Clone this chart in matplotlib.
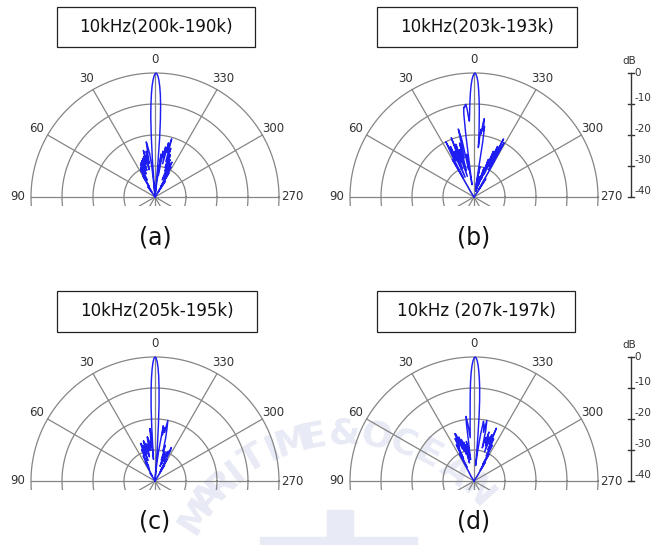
import numpy as np
import matplotlib.pyplot as plt
from matplotlib.patches import Rectangle

# beam patterns, angle in degrees (positive = toward 30/60/90 side), level in dB
ang_a = [-40, -35, -33, -32, -30, -29, -28, -27, -26, -25, -24, -23, -22, -21, -20, -19, -18, -17, -16, -15,
         -14, -13, -12, -11, -10, -9, -8, -7, -6, -5.5, -5, -4.5, -4, -3.5, -3, -2.5, -2, -1.5, -1, -0.5,
         0, 0.5, 1, 1.5, 2, 2.5, 3, 3.5, 4, 4.5, 5, 6, 7, 8, 9, 10, 11, 12, 13, 14, 15, 16, 17, 18, 19,
         20, 21, 22, 23, 24, 25, 26, 27, 28, 29, 30, 32, 35, 40]
db_a = [-40, -39, -34, -38, -31, -36, -29, -33, -27.5, -32, -28, -34, -27, -31, -25.5, -30, -23.5, -28, -20.5, -25,
        -22, -29, -23.5, -27, -25, -33, -26, -35, -40, -40, -30, -21, -15, -10.5, -7, -4.5, -2.6, -1.2, -0.4, 0,
        -0.3, -1.1, -2.4, -4.2, -6.8, -10, -14, -20, -28, -40, -37, -30, -26, -24, -22, -29, -25, -31, -27, -24.5, -29, -26.5, -31, -27, -30,
        -27.5, -32, -28, -31, -28.5, -34, -29.5, -33, -30, -36, -32, -38, -36, -40]

ang_b = [-40, -36, -33, -32, -30, -29, -28, -27, -26, -25, -24, -23, -22, -21, -20, -19, -18, -17, -15, -13,
         -12, -11, -10, -9.5, -9, -8.5, -8, -7.5, -7, -6.5, -6, -5.5, -5, -4.5, -4, -3.5, -3, -2.5, -2, -1.5,
         -1, -0.5, 0, 0.5, 1, 1.5, 2, 2.5, 3, 3.5, 4, 4.5, 5, 5.5, 6, 6.5, 7, 7.5, 8, 9, 10, 11, 12, 13,
         14, 15, 16, 17, 18, 19, 20, 21, 22, 23, 24, 25, 26, 27, 28, 29, 30, 31, 33, 36, 40]
db_b = [-40, -38, -33, -37, -28, -20, -30, -19, -29, -22, -32, -24, -34, -27, -36, -30, -38, -33, -38, -34,
        -37, -30, -36, -35, -22, -17, -18.5, -14.5, -16, -19.5, -18, -20, -24, -19.5, -16, -12, -8.5, -5.5, -3, -1.5,
        -0.5, 0, -0.3, -1, -2.2, -4, -6.5, -9.5, -13, -15.5, -14, -11.5, -10, -10.2, -11, -10.8, -13, -20, -30, -36, -26, -31, -21, -17.5,
        -27, -22, -31, -24, -33, -22, -28, -19.5, -30, -24, -33, -22, -27, -20, -25, -33, -26, -36, -38, -40, -40]

ang_c = [-40, -34, -31, -30, -29, -28, -27, -26, -25, -24, -23, -22, -21, -20, -19, -18, -17, -16, -15, -14,
         -13, -12, -11, -10, -9, -8.5, -8, -7, -6, -5, -4.5, -4, -3.5, -3, -2.5, -2, -1.5, -1, -0.5, 0,
         0.5, 1, 1.5, 2, 2.5, 3, 3.5, 4, 5, 5.5, 6, 7, 8, 9, 10, 11, 12, 13, 14, 15, 16, 17, 18, 19,
         20, 21, 22, 23, 24, 25, 26, 27, 29, 32, 35, 40]
db_c = [-40, -39, -34, -37, -32, -36, -29, -28, -31, -29.5, -33, -30, -34, -31, -35, -30, -33, -28, -30, -26,
        -23, -20, -24, -22.5, -25, -22, -26, -30, -34, -38, -40, -30, -22, -15, -10, -6, -3.2, -1.4, -0.3, 0,
        -0.5, -1.8, -4, -7, -11, -16, -23, -33, -25, -23, -29, -27, -30, -26, -25.5, -30, -28, -32, -27.5, -30, -26.5, -31, -28, -33,
        -27.5, -27, -31, -29, -35, -31, -36, -33, -38, -37, -40, -40]

ang_d = [-40, -34, -31, -30, -29, -28, -27, -26, -25, -24, -23, -22, -21, -20, -19, -18, -17, -16, -15, -14,
         -13, -12, -11, -10, -9, -8, -7, -6, -5, -4.5, -4, -3.5, -3, -2.5, -2, -1.5, -1, -0.5, 0, 0.5,
         1, 1.5, 2, 2.5, 3, 3.5, 4, 5, 6, 7, 7.5, 8, 9, 10, 11, 12, 13, 14, 15, 16, 17, 18, 19, 20,
         21, 22, 23, 24, 25, 26, 27, 28, 30, 33, 36, 40]
db_d = [-40, -38, -33, -36, -30, -34, -27, -31, -25, -29, -21.5, -27, -24, -30, -25, -28, -23.5, -27, -25.5, -29,
        -23, -20, -24, -21.5, -20.5, -25, -30, -35, -26, -19, -14, -10, -7, -4.5, -2.5, -1.1, -0.3, 0, -0.4, -1.3,
        -2.8, -5, -8, -12, -16, -19.5, -22, -26, -22, -19, -21, -28, -33, -30, -27, -32, -28, -34, -27, -31, -26, -30, -25, -29,
        -24, -23.5, -28, -25, -32, -27, -35, -30, -37, -38, -40, -40]

titles = ["10kHz(200k-190k)", "10kHz(203k-193k)", "10kHz(205k-195k)", "10kHz (207k-197k)"]
letters = ["(a)", "(b)", "(c)", "(d)"]
angles = [ang_a, ang_b, ang_c, ang_d]
levels = [db_a, db_b, db_c, db_d]

ring_db = [0, -10, -20, -30]
scale_db = [0, -10, -20, -30, -40]
spoke_deg = [0, 30, 60, 90, 120, 150, 180, 210, 240, 270, 300, 330]
label_deg = [0, 30, 60, 90, 270, 300, 330]
db_min = -40

W, H = 658, 545
R_PX = 124
fig = plt.figure(figsize=(W / 100, H / 100), dpi=100)
fig.patch.set_facecolor('white')

# panel centres in pixels
centres = [(155, 197), (474, 197), (155, 481), (474, 481)]
boxes = [(57, 7, 255, 47), (377, 7, 577, 47), (57, 291, 257, 332), (377, 291, 575, 332)]
grid_c = '#858585'
line_c = '#1e1ef2'
wm_c = '#e8eaf5'


def to_r(db):
    return np.clip((np.asarray(db, float) - db_min) / -db_min, 0, None)


def xy(deg, r):
    th = np.deg2rad(np.asarray(deg, float))
    return -r * np.sin(th), r * np.cos(th)


# faint watermark behind everything
wm_text = "MARITIME&OCEAN"
wm_deg = [57, 50, 44, 38, 31, 24, 17, 10, 0, -10, -19, -28, -38, -48]
for ch, a in zip(wm_text, wm_deg):
    px = 345 - 178 * np.sin(np.deg2rad(a))
    py = 612 - 178 * np.cos(np.deg2rad(a))
    fig.text(px / W, 1 - py / H, ch, fontsize=26, fontweight='bold', color=wm_c,
             rotation=a, ha='center', va='center', zorder=-5)
fig.add_artist(Rectangle((327 / W, 0), 26 / W, 35 / H, transform=fig.transFigure,
                         color=wm_c, zorder=-5))
fig.add_artist(Rectangle((260 / W, 0), 157 / W, 8 / H, transform=fig.transFigure,
                         color=wm_c, zorder=-5))

x0, x1, y0, y1 = -1.32, 1.32, -0.075, 1.18
t = np.linspace(0, 2 * np.pi, 361)

for i, (cx, cy) in enumerate(centres):
    ax = fig.add_axes([(cx + x0 * R_PX) / W, 1 - (cy - y0 * R_PX) / H,
                       (x1 - x0) * R_PX / W, (y1 - y0) * R_PX / H])
    ax.set_xlim(x0, x1)
    ax.set_ylim(y0, y1)
    ax.axis('off')
    ax.patch.set_visible(False)

    for d in ring_db:
        r = to_r(d)
        ax.plot(r * np.cos(t), r * np.sin(t), color=grid_c, lw=0.9)
    for a in spoke_deg:
        sx, sy = xy([a, a], np.array([0, 1.0]))
        ax.plot(sx, sy, color=grid_c, lw=0.9)
    for a in label_deg:
        lx, ly = xy(a, 1.105)
        ax.text(lx, ly, str(a), fontsize=8.5, color='#333333', ha='center', va='center', clip_on=False)

    px, py = xy(angles[i], to_r(levels[i]))
    ax.plot(px, py, color=line_c, lw=1.05, clip_on=False)

    # dB scale on the right-hand panels
    if i in (1, 3):
        xb = 1.266
        ax.plot([xb, xb], [0, 1], color='#333333', lw=1.0, clip_on=False)
        for d in scale_db:
            yb = float(to_r(d))
            ax.plot([xb - 0.022, xb + 0.022], [yb, yb], color='#333333', lw=1.0, clip_on=False)
            off = 0.0 if d == 0 else 0.045
            ax.text(xb + 0.03, yb + off, str(d), fontsize=7.5, color='#333333',
                    ha='left', va='center', clip_on=False)
        ax.text(xb - 0.01, 1.1, 'dB', fontsize=7.5, color='#333333', ha='center', va='center', clip_on=False)

    bx0, by0, bx1, by1 = boxes[i]
    fig.add_artist(Rectangle((bx0 / W, 1 - by1 / H), (bx1 - bx0) / W, (by1 - by0) / H,
                             transform=fig.transFigure, fill=False, ec='#222222', lw=0.9))
    fig.text((bx0 + bx1) / 2 / W, 1 - (by0 + by1) / 2 / H, titles[i], fontsize=12,
             ha='center', va='center', color='#111111')
    fig.text(cx / W, 1 - (cy + 40) / H, letters[i], fontsize=17, ha='center', va='center', color='#111111')

fig.savefig('out.png', dpi=100)
